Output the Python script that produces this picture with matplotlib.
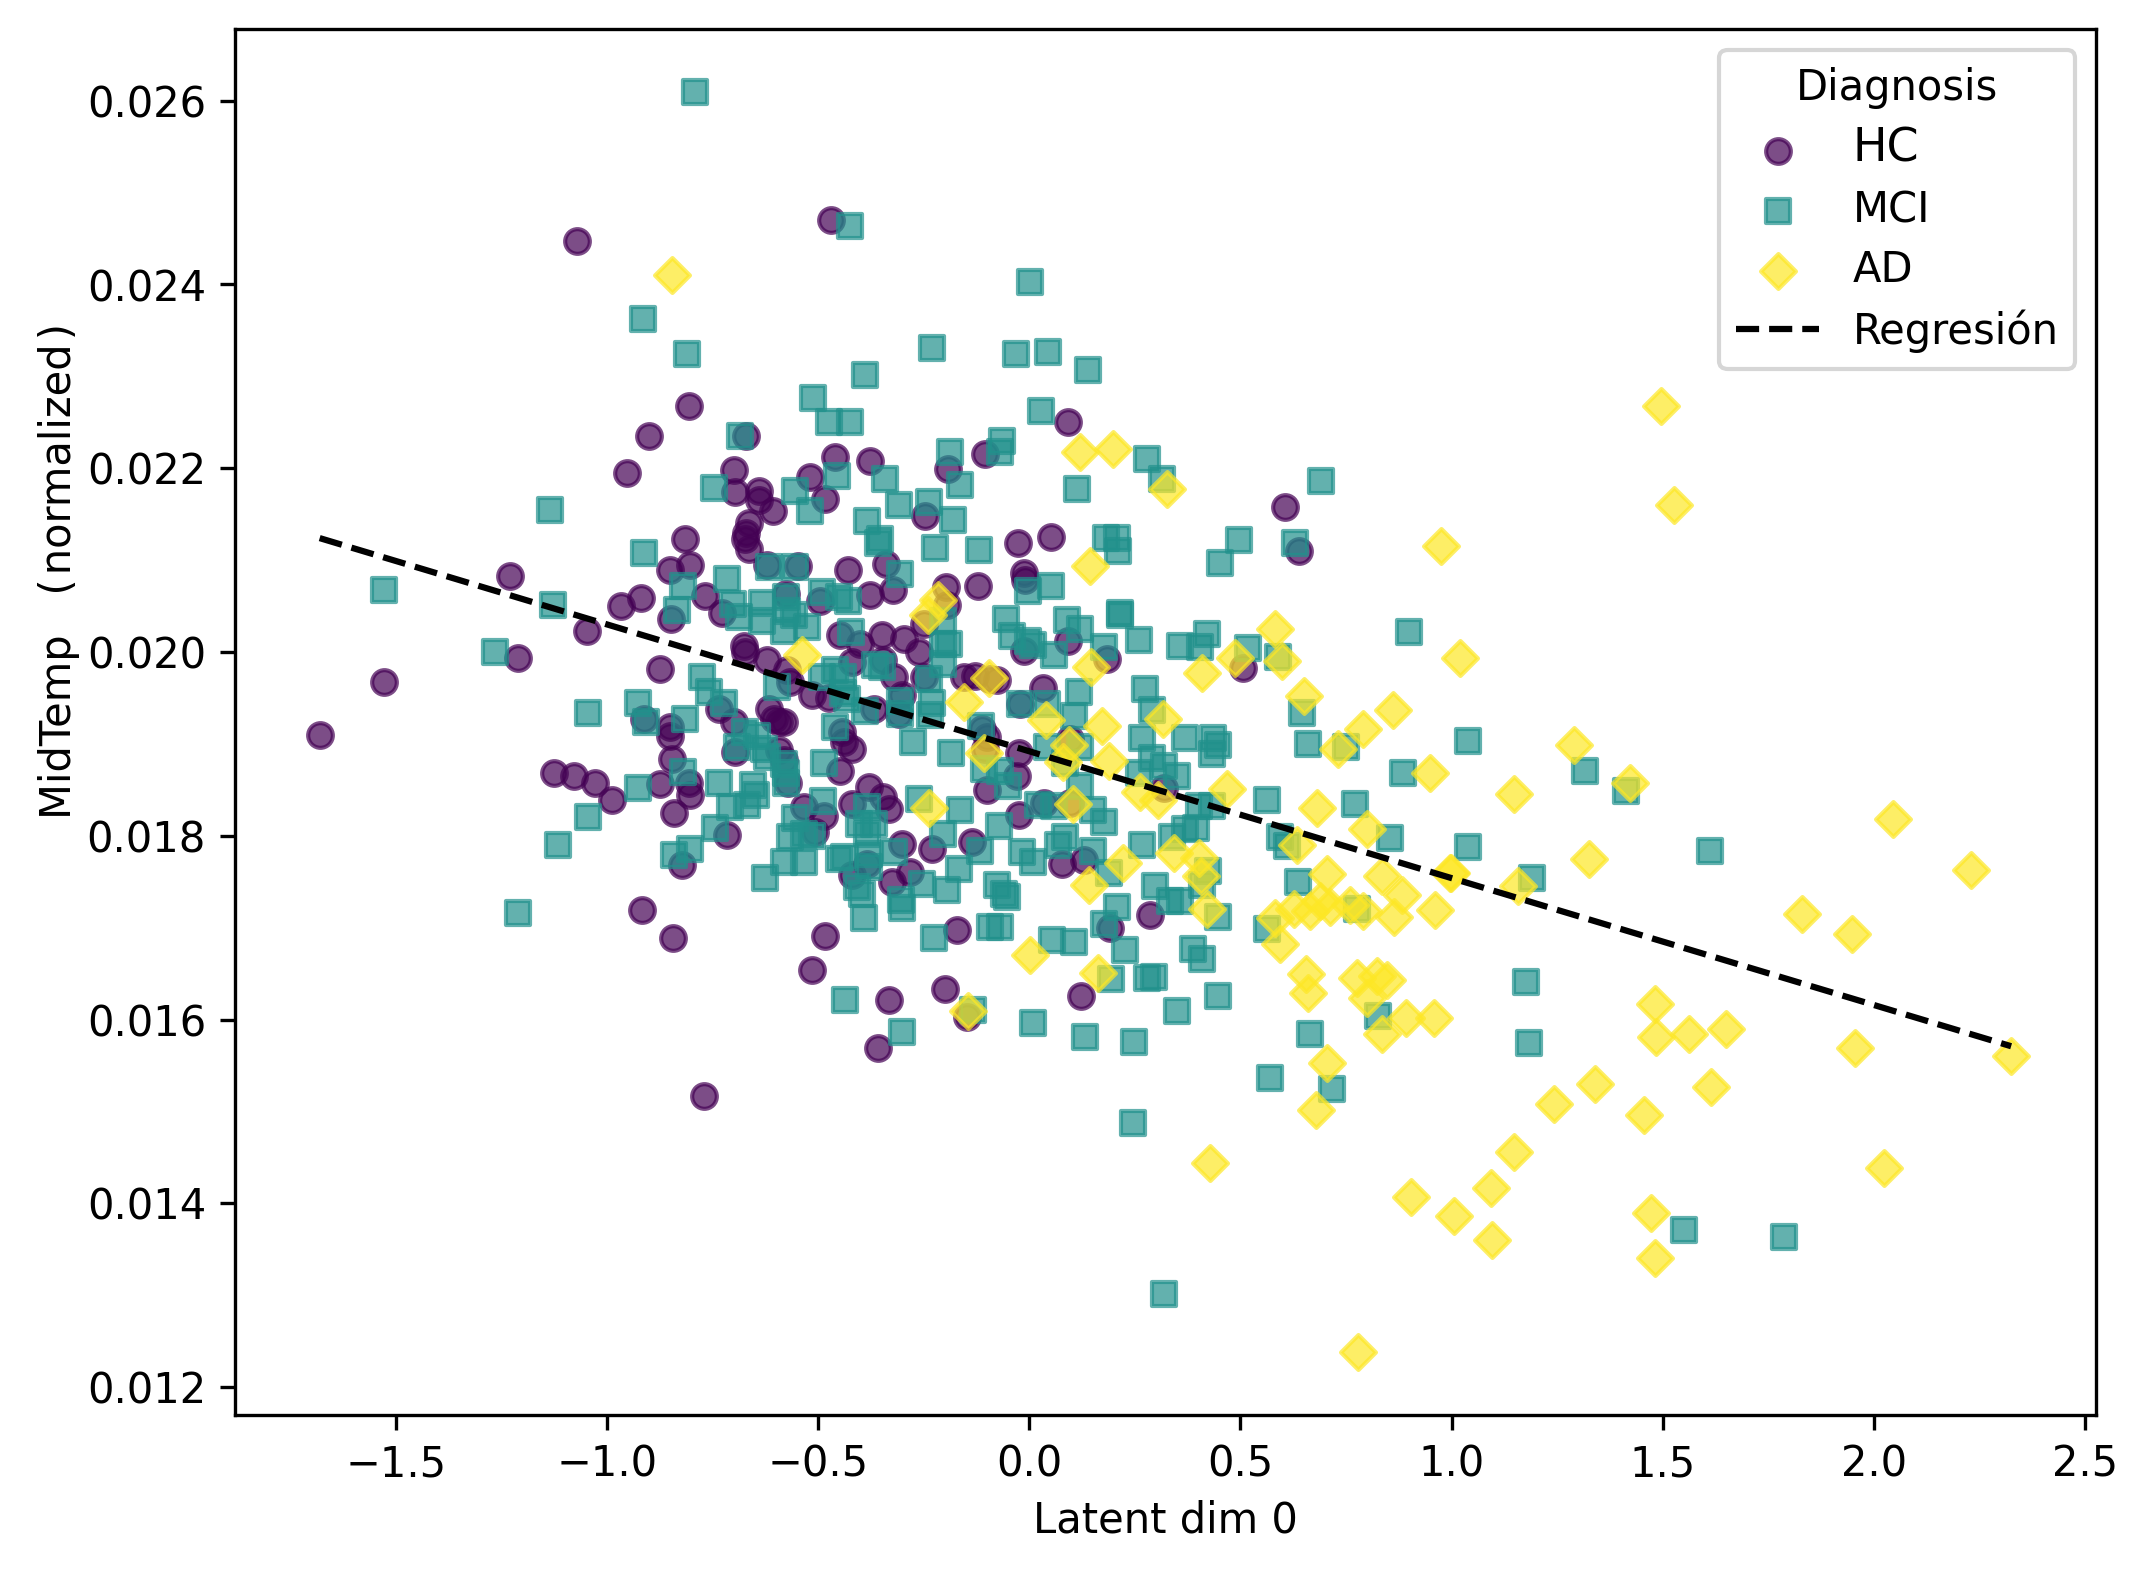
import matplotlib
matplotlib.use("Agg")
import matplotlib.pyplot as plt

hc_x = [-1.68, -1.527, -1.23, -1.211, -1.126, -1.078, -1.029, -0.989, -1.048, -1.07,
        -0.953, -0.90, -0.805, -0.966, -0.92, -0.913, -0.917, -0.844, -0.77, -0.873,
        -0.848, -0.85, -0.814, -0.802, -0.767, -0.875, -0.85, -0.85, -0.846, -0.842,
        -0.806, -0.802, -0.716, -0.735, -0.70, -0.697, -0.822, -0.67, -0.70, -0.696,
        -0.64, -0.64, -0.607, -0.664, -0.67, -0.672, -0.664, -0.727, -0.621, -0.548,
        -0.577, -0.52, -0.483, -0.459, -0.495, -0.428, -0.376, -0.338, -0.378, -0.323,
        -0.246, -0.193, -0.197, -0.195, -0.25, -0.122, -0.104, -0.676, -0.674, -0.621,
        -0.574, -0.566, -0.514, -0.475, -0.447, -0.40, -0.349, -0.296, -0.262, -0.42,
        -0.345, -0.321, -0.25, -0.155, -0.128, -0.092, -0.301, -0.368, -0.309, -0.617,
        -0.605, -0.593, -0.581, -0.443, -0.439, -0.42, -0.447, -0.593, -0.581, -0.57,
        -0.112, -0.10, -0.104, -0.10, -0.534, -0.487, -0.506, -0.42, -0.38, -0.345,
        -0.333, -0.301, -0.23, -0.136, -0.384, -0.42, -0.325, -0.282, -0.484, -0.515,
        -0.333, -0.20, -0.357, -0.147, -0.171, -0.077, -0.013, 0.091, 0.184,
        0.507, 0.032, -0.021, -0.025, -0.029, -0.025, 0.034, 0.097, 0.318, 0.097,
        0.077, 0.13, 0.285, 0.192, 0.122, 0.606, 0.639, 0.091, 0.052, -0.026,
        -0.013, -0.01, -0.47]
hc_y = [0.0191, 0.01967, 0.02083, 0.01993, 0.01868, 0.01865, 0.01857, 0.01839, 0.02023, 0.02447,
        0.02195, 0.02235, 0.02268, 0.0205, 0.02059, 0.01927, 0.01719, 0.01689, 0.01517, 0.01982,
        0.02036, 0.02089, 0.02123, 0.02095, 0.02061, 0.01856, 0.01918, 0.01909, 0.01884, 0.01825,
        0.01857, 0.01844, 0.01801, 0.01938, 0.01924, 0.01891, 0.01768, 0.02235, 0.02198, 0.02174,
        0.02175, 0.02165, 0.02153, 0.0214, 0.0213, 0.02123, 0.02112, 0.02042, 0.02095, 0.02094,
        0.02063, 0.0219, 0.02167, 0.02212, 0.02056, 0.02089, 0.02208, 0.02096, 0.02062, 0.02067,
        0.02148, 0.02199, 0.02071, 0.02051, 0.02031, 0.02072, 0.02215, 0.02007, 0.02, 0.01991,
        0.0198, 0.01967, 0.01953, 0.0195, 0.02018, 0.02009, 0.02018, 0.02014, 0.02, 0.01989,
        0.01991, 0.01973, 0.01973, 0.01973, 0.01974, 0.01971, 0.01953, 0.01938, 0.01933, 0.01938,
        0.01927, 0.01924, 0.01924, 0.01913, 0.01902, 0.01895, 0.0187, 0.01893, 0.01882, 0.01858,
        0.01916, 0.01907, 0.01895, 0.0185, 0.01831, 0.01822, 0.01804, 0.01835, 0.01853, 0.01842,
        0.01829, 0.01791, 0.01786, 0.01793, 0.01769, 0.01757, 0.0175, 0.01761, 0.01691, 0.01654,
        0.01621, 0.01633, 0.01569, 0.01603, 0.01697, 0.0197, 0.02001, 0.02012, 0.01992,
        0.01983, 0.01961, 0.01943, 0.0189, 0.01865, 0.01823, 0.01836, 0.01836, 0.01852, 0.01905,
        0.01769, 0.01774, 0.01714, 0.017, 0.01626, 0.02158, 0.0211, 0.0225, 0.02125, 0.02119,
        0.02086, 0.02078, 0.0247]

mci_x = [-1.134, -0.913, -1.128, -0.747, -0.685, -0.475, -0.424, -0.554, -0.454,
         -0.52, -0.342, -0.308, -0.238, -0.188, -0.165, -0.181, -0.069, -0.383, -0.353,
         -0.357, -0.222, -0.12, -0.617, -0.554, -0.305, -0.82, -0.834, -0.715, -0.702,
         -0.688, -0.633, -0.633, -0.577, -0.574, -0.558, -0.581, -0.526, -0.491, -0.451,
         -0.428, -0.422, -0.056, -0.203, -0.19, -0.203, -0.203, -0.364, -0.349, -0.491,
         -0.459, -0.44, -0.44, -0.431, -0.388, -0.305, -0.305, -0.238, -0.23, -0.234,
         -0.597, -0.775, -0.759, -0.723, -1.045, -0.927, -0.908, -0.816, -0.672, -0.645,
         -0.692, -0.629, -0.621, -0.581, -0.577, -0.577, -0.459, -0.487, -0.276, -0.185,
         -0.113, -0.108, -0.069, -0.927, -0.82, -0.734, -0.654, -0.648, -0.708, -0.668,
         -1.045, -1.116, -0.745, -0.802, -0.84, -0.626, -0.581, -0.534, -0.566, -0.554,
         -0.488, -0.534, -0.514, -0.451, -0.439, -0.404, -0.384, -0.384, -0.368, -0.38,
         -0.321, -0.38, -0.408, -0.396, -0.262, -0.203, -0.163, -0.072, -0.116, -0.167,
         -0.195, -0.254, -0.303, -0.30, -0.076, -0.06, -1.211, -0.39, -0.226, -0.092,
         -0.069, -0.437, -0.30, -0.132, -0.041, -0.002, 0.01, 0.058, 0.089,
         0.12, 0.176, 0.214, 0.261, 0.357, 0.42, 0.405, 0.519, 0.59, 0.90,
         0.645, 0.659, 0.75, 0.886, 0.117, 0.106, -0.021, 0.042,
         0.043, 0.12, -0.051, 0.085, 0.12, 0.275, 0.29, 0.268, 0.368,
         0.436, 0.448, 0.434, 0.29, 0.259, 0.318, 0.35, 0.022,
         0.058, 0.152, 0.178, 0.085, 0.069, 0.152, -0.016, 0.01,
         0.188, 0.267, 0.338, 0.369, 0.394, 0.401, 0.432, 0.562, 0.772, 0.594,
         0.611, 0.637, 0.854, 0.424, 0.409, 0.297, 0.334, 0.357,
         -0.053, 0.208, 0.178, 0.448, 0.562, 0.777, 0.054,
         0.105, 0.226, 0.387, 0.41, 0.193, 0.279, 0.296, 0.448, 0.008, 0.131,
         0.247, 0.35, 0.665, 0.827, 0.569, 0.716, -0.791, -0.425, 0.003, -0.914,
         -0.811, -0.389, -0.032, 0.045, -0.23, 0.139, -0.512, 0.029,
         -0.065, 0.279, 0.315, 0.691, 0.113,
         0.208, 0.211, 0.182,
         0.629, 0.496, 0.451, -1.527, -1.265, 0.214,
         0.052, -0.003, 1.038, 1.316,
         1.414, 1.038, 1.612, 1.19, 1.177, 1.183, 1.55, 1.787,
         0.318, 0.246]
mci_y = [0.02155, 0.02108, 0.02051, 0.02178, 0.02235, 0.0225, 0.0225, 0.02175, 0.02192,
         0.02153, 0.02188, 0.0216, 0.02163, 0.02218, 0.02182, 0.02144, 0.02218, 0.02143, 0.02123,
         0.02119, 0.02113, 0.02111, 0.02093, 0.02093, 0.02085, 0.02072, 0.02046, 0.02079, 0.02052,
         0.02038, 0.02053, 0.02034, 0.0206, 0.02045, 0.0204, 0.02023, 0.02027, 0.02065, 0.0206,
         0.02056, 0.02022, 0.02036, 0.02009, 0.02009, 0.01987, 0.02034, 0.01986, 0.01984, 0.01973,
         0.0198, 0.01973, 0.01955, 0.01949, 0.01936, 0.01947, 0.01933, 0.01971, 0.01944, 0.01931,
         0.01962, 0.01973, 0.01956, 0.01944, 0.01934, 0.01945, 0.01924, 0.01927, 0.01913, 0.01909,
         0.01897, 0.01895, 0.01886, 0.01878, 0.01868, 0.01858, 0.01918, 0.01879, 0.01902, 0.0189,
         0.0192, 0.01873, 0.01871, 0.01852, 0.01869, 0.01858, 0.01855, 0.01844, 0.01831, 0.01833,
         0.0182, 0.0179, 0.01809, 0.01786, 0.01779, 0.01754, 0.01771, 0.01771, 0.01799, 0.01819,
         0.01838, 0.01802, 0.018, 0.01775, 0.01777, 0.01813, 0.01831, 0.01802, 0.01813, 0.0178,
         0.01782, 0.01766, 0.01744, 0.01737, 0.0184, 0.01802, 0.01828, 0.01811, 0.01784, 0.01764,
         0.01741, 0.01748, 0.0173, 0.01721, 0.01746, 0.01737, 0.01716, 0.01711, 0.01689, 0.01701,
         0.01701, 0.01621, 0.01586, 0.0161, 0.02017, 0.02012, 0.02008, 0.01997, 0.02035,
         0.02025, 0.02006, 0.02042, 0.02013, 0.02007, 0.0202, 0.02006, 0.02004, 0.01995, 0.02022,
         0.01934, 0.019, 0.01897, 0.01868, 0.01957, 0.0193, 0.01943, 0.01943,
         0.01897, 0.01897, 0.01854, 0.01879, 0.01854, 0.0196, 0.01937, 0.01906, 0.01906,
         0.01906, 0.01899, 0.01889, 0.01885, 0.01868, 0.01876, 0.01865, 0.01834,
         0.01832, 0.01828, 0.01815, 0.01799, 0.0179, 0.01783, 0.01782, 0.01772,
         0.0176, 0.0179, 0.01799, 0.01807, 0.01809, 0.01832, 0.01832, 0.01839, 0.01835, 0.01799,
         0.01789, 0.0175, 0.01798, 0.01762, 0.01746, 0.01745, 0.01729, 0.01729,
         0.01733, 0.01723, 0.01704, 0.01712, 0.01699, 0.0172, 0.01687,
         0.01684, 0.01676, 0.01677, 0.01666, 0.01644, 0.01645, 0.01646, 0.01626, 0.01596, 0.01581,
         0.01576, 0.01609, 0.01584, 0.01604, 0.01536, 0.01524, 0.0261, 0.02464, 0.02403, 0.02362,
         0.02324, 0.02301, 0.02324, 0.02327, 0.02331, 0.02307, 0.02277, 0.02262,
         0.0223, 0.0221, 0.02188, 0.02186, 0.02177,
         0.02124, 0.0211, 0.02124,
         0.02119, 0.02122, 0.02097, 0.02067, 0.02, 0.0204,
         0.02072, 0.02066, 0.01903, 0.0187,
         0.01849, 0.01788, 0.01784, 0.01754, 0.01641, 0.01575, 0.01371, 0.01363,
         0.01301, 0.01487]

ad_x = [0.582, 0.488, 0.598, 0.409, 0.651, 0.862, 0.791, 0.732, 0.948, 0.468,
        0.316, 0.147, 0.04, -0.094, -0.155, 0.172, 0.095, 0.081, 0.188, -0.106,
        0.263, 0.304, 0.103, 0.682, 0.801, 0.633, 0.705, 0.835, 0.882, 0.996,
        0.961, 0.864, 0.791, 0.76, 0.712, 0.689, 0.665, 0.626, 0.582, 0.594,
        0.42, 0.406, 0.401, 0.343, 0.221, 0.142, 0.001, 0.162, -0.146, 0.655,
        0.659, 0.775, 0.823, 0.847, 0.799, 0.892, 0.959, 0.836, 0.706, -0.846,
        1.495, 0.12, 0.198, 0.327, 1.527, 0.143, 0.976, 1.021, -0.217, -0.24,
        -0.538, -0.238, 1.29, 1.423, 1.148,
        1.326, 0.999, 1.158, 2.046, 2.231, 1.829, 1.949, 1.482, 1.485,
        1.563, 1.65, 1.955, 2.325, 1.339, 1.242, 1.615, 1.456, 1.148, 2.023,
        0.428, 0.905, 1.093, 1.005, 1.096, 1.472, 1.482, 0.778, 0.678]
ad_y = [0.02025, 0.01994, 0.0199, 0.01977, 0.01952, 0.01937, 0.01916, 0.01894, 0.01868, 0.01851,
        0.01927, 0.01984, 0.01926, 0.01972, 0.01946, 0.01919, 0.01899, 0.0188, 0.01881, 0.0189,
        0.01848, 0.01839, 0.01835, 0.0183, 0.01807, 0.0179, 0.01758, 0.01756, 0.01736, 0.0176,
        0.01719, 0.01712, 0.01718, 0.01725, 0.01723, 0.01729, 0.01718, 0.0172, 0.01711, 0.01682,
        0.0172, 0.01756, 0.01776, 0.01781, 0.0177, 0.01747, 0.0167, 0.01651, 0.01609, 0.0165,
        0.01629, 0.01645, 0.01647, 0.01643, 0.01624, 0.01602, 0.01602, 0.01584, 0.01553, 0.0241,
        0.02268, 0.02218, 0.02221, 0.02177, 0.0216, 0.02094, 0.02115, 0.01994, 0.02057, 0.0204,
        0.01997, 0.0183, 0.01899, 0.01858, 0.01845,
        0.01775, 0.0176, 0.01745, 0.01818, 0.01763, 0.01715, 0.01693, 0.01617, 0.01581,
        0.01584, 0.0159, 0.01569, 0.0156, 0.0153, 0.01508, 0.01527, 0.01496, 0.01456, 0.01439,
        0.01444, 0.01407, 0.01417, 0.01386, 0.0136, 0.01389, 0.01341, 0.01238, 0.01502]

reg_x = [-1.68, 2.325]
reg_y = [0.02124, 0.01571]

x_ticks = [-1.5, -1.0, -0.5, 0.0, 0.5, 1.0, 1.5, 2.0, 2.5]
y_ticks = [0.012, 0.014, 0.016, 0.018, 0.020, 0.022, 0.024, 0.026]

fig, ax = plt.subplots(figsize=(7.16, 5.2367), dpi=300)
fig.subplots_adjust(left=0.1095, right=0.9758, top=0.9815, bottom=0.0995)

ax.scatter(hc_x, hc_y, s=35, marker='o', color='#440154', alpha=0.7, linewidths=1, label='HC')
ax.scatter(mci_x, mci_y, s=35, marker='s', color='#21918c', alpha=0.7, linewidths=1, label='MCI')
ax.scatter(ad_x, ad_y, s=35, marker='D', color='#fde725', alpha=0.7, linewidths=1, label='AD')
ax.plot(reg_x, reg_y, color='k', lw=1.5, linestyle='--', label='Regresión')

ax.set_xlim(-1.88, 2.526)
ax.set_ylim(0.0117, 0.02678)
ax.set_xticks(x_ticks)
ax.set_yticks(y_ticks)
ax.set_xlabel('Latent dim 0', labelpad=3.3)
# parens sit a bit away from the word in the original
ax.set_ylabel('MidTemp   (\u200anormalized\u200a)', y=0.609, labelpad=1.5)

leg = ax.legend(title='Diagnosis', loc='upper right', labelspacing=0.43)
leg.get_texts()[0].set_fontsize(11)

fig.savefig('out.png', dpi=300)
